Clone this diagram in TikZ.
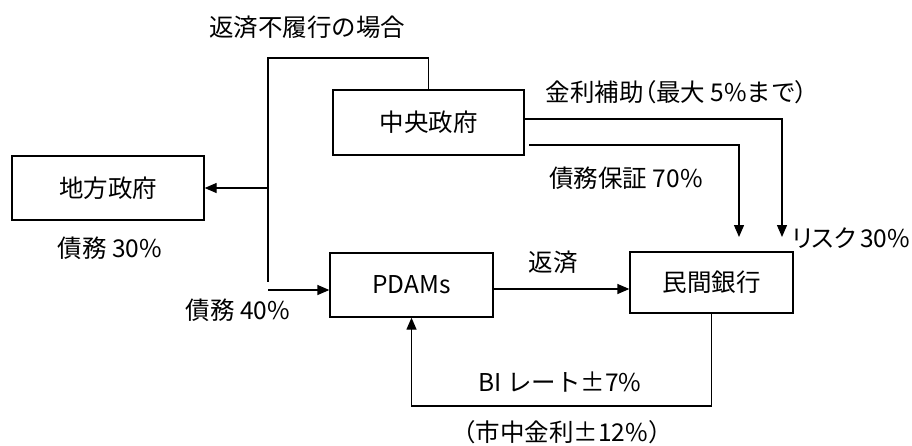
\documentclass[tikz,border=0pt]{standalone}
\usepackage{fontspec}
\setmainfont{Noto Sans CJK JP}
\newfontfamily\pfont[RawFeature=+palt]{Noto Sans CJK JP}
\usetikzlibrary{arrows.meta}
\begin{document}
\begin{tikzpicture}[x=1pt,y=-1pt,
  box/.style={draw,line width=1.3pt,inner sep=0pt,anchor=center,font=\fontsize{24.5}{28}\selectfont},
  lbl/.style={inner sep=0pt,anchor=center,font=\fontsize{24.5}{28}\selectfont},
  arr/.style={line width=1.3pt,-{Triangle[length=12pt,width=10pt]}},
  ln/.style={line width=1.3pt}]
\useasboundingbox (0,0) rectangle (912,445);
% boxes
\node[box,minimum width=191pt,minimum height=65pt] (chuo) at (428.5,122.5) {中央政府};
\node[box,minimum width=192pt,minimum height=64pt] (chiho) at (108,188) {地方政府};
\node[box,minimum width=163pt,minimum height=64pt] (pdam) at (411.5,285) {PDAMs};
\node[box,minimum width=163pt,minimum height=61pt] (bank) at (711.5,282.5) {民間銀行};
% coordinates
\coordinate (tl) at (268,58);
\coordinate (jb) at (268,282);
\coordinate (d40) at (268,290);
\coordinate (r1) at (782,237);
\coordinate (r2) at (739,237);
\coordinate (g0) at (529,145);
\coordinate (lb) at (411.5,406);
% connectors
\draw[ln] (chuo.north) |- (tl) -- (jb);
\draw[arr] (tl |- chiho.east) -- (chiho.east);
\draw[arr] (d40) -- (d40 -| pdam.west);
\draw[arr] (pdam.east |- 0,289) -- (bank.west |- 0,289);
\draw[arr] (bank.south) |- (lb) -- (pdam.south);
\draw[arr] (chuo.east |- 0,119) -| (r1);
\draw[arr] (g0) -| (r2);
% labels
\node[lbl] (l1) at (307,27) {返済不履行の場合};
\node[lbl] (l2) at (677,92) {金利補助{\pfont（}最大 5\%まで{\pfont）}};
\node[lbl] (l3) at (626,178) {債務保証 70\%};
\node[lbl,anchor=east] (l4) at (910,238) {{\pfont リスク}\,30\%};
\node[lbl] (l5) at (553,262) {返済};
\node[lbl] (l6) at (110,248) {債務 30\%};
\node[lbl] (l7) at (238,310) {債務 40\%};
\node[lbl] (l8) at (560,382) {BI レート±7\%};
\node[lbl] (l9) at (562,432) {（市中金利±12\%）};
\end{tikzpicture}
\end{document}
